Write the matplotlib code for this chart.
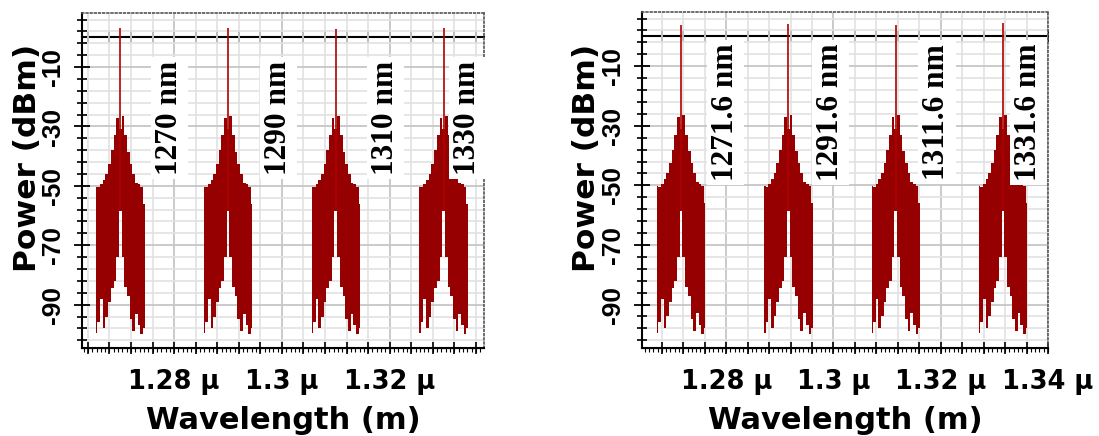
import numpy as np
import matplotlib
matplotlib.use("Agg")
import matplotlib.pyplot as plt
from matplotlib.ticker import FixedLocator, FuncFormatter, NullFormatter

# channel carriers (nm) and the carrier peak power (dBm)
left_centres = [1270, 1290, 1310, 1330]
left_peaks = [3.0, 3.0, 2.9, 3.0]
left_names = ["1270 nm", "1290 nm", "1310 nm", "1330 nm"]

right_centres = [1271.6, 1291.6, 1311.6, 1331.6]
right_peaks = [3.8, 4.2, 3.9, 4.4]
right_names = ["1271.6 nm", "1291.6 nm", "1311.6 nm", "1331.6 nm"]

# comb of sidebands around each carrier: offset (nm), top and bottom of the comb (dBm)
offsets = [-4.5, -4.0, -3.5, -3.0, -2.5, -2.0, -1.5, -1.0, -0.5, 0.0,
           0.5, 1.0, 1.5, 2.0, 2.5, 3.0, 3.5, 4.0, 4.5]
comb_top = [-50.3, -50.5, -49.5, -48.0, -46.0, -42.5, -38.0, -33.0, -27.0, -31.0,
            -26.5, -33.0, -38.5, -42.5, -46.0, -49.0, -49.5, -50.3, -56.0]
comb_bottom = [-99.5, -96.0, -88.0, -98.0, -94.0, -89.0, -84.5, -82.0, -74.0, -58.5,
               -74.0, -84.0, -87.0, -95.0, -99.0, -93.0, -97.0, -100.0, -98.0]

RED = "#960000"
YMIN, YMAX = -104.6, 8.2


def draw_panel(ax, centres, peaks, names, xlim, label_x, label_y):
    off = np.array(offsets)
    for c, p in zip(centres, peaks):
        x = (c + off) * 1e-9
        ax.fill_between(x, comb_bottom, comb_top, step="mid", facecolor=RED,
                        edgecolor="none", lw=0, antialiased=False, zorder=3)
        ax.vlines(c * 1e-9, comb_bottom[9], p, color="#b00000", lw=1.2, zorder=3)

    for lx, name in zip(label_x, names):
        ax.text(lx * 1e-9, label_y, name, rotation=90, ha="center", va="center",
                family="Liberation Serif", weight="bold", fontsize=22.5,
                bbox=dict(facecolor="white", edgecolor="none", pad=3),
                zorder=6, clip_on=False)

    ax.set_xlim(xlim[0] * 1e-9, xlim[1] * 1e-9)
    ax.set_ylim(YMIN, YMAX)

    # x ticks: labels every 20 nm, ticks/grid every 4 nm
    ax.xaxis.set_major_locator(FixedLocator(np.arange(1260, 1345, 20) * 1e-9))
    ax.xaxis.set_minor_locator(FixedLocator(np.arange(1260, 1345, 4) * 1e-9))
    ax.xaxis.set_major_formatter(FuncFormatter(lambda v, p: f"{v * 1e6:.3g} \u03bc"))
    ax.yaxis.set_major_locator(FixedLocator([-90, -70, -50, -30, -10]))
    ax.yaxis.set_minor_locator(FixedLocator(np.arange(-102, 8, 4)))
    ax.yaxis.set_major_formatter(FuncFormatter(lambda v, p: f"-{abs(v):.0f}"))

    ax.grid(which="major", color="#c6c6c6", lw=1.3)
    ax.grid(which="minor", color="#e2e2e2", lw=1.2)
    ax.set_axisbelow(True)

    ax.tick_params(axis="x", which="both", direction="inout", length=8, width=1.2,
                   pad=11, labelsize=18.5)
    ax.tick_params(axis="y", which="major", direction="inout", length=11, width=1.3,
                   pad=7, labelsize=19)
    ax.tick_params(axis="y", which="minor", direction="inout", length=7, width=1.2)
    for t in ax.get_xticklabels():
        t.set_fontweight("bold")
        t.set_family("DejaVu Sans")
    for t in ax.get_yticklabels():
        t.set_fontweight("bold")
        t.set_family("Liberation Sans")
        t.set_rotation(90)
        t.set_va("center")

    for s in ("left", "bottom"):
        ax.spines[s].set_color("black")
        ax.spines[s].set_linewidth(1.5)
    for s in ("top", "right"):
        ax.spines[s].set_linestyle((0, (1, 1.5)))
        ax.spines[s].set_linewidth(1.2)
        ax.spines[s].set_color("#555555")

    # 0 dBm reference line with tick marks
    zl = ax.secondary_xaxis((0 - YMIN) / (YMAX - YMIN))
    zl.xaxis.set_major_locator(FixedLocator(np.arange(1260, 1345, 4) * 1e-9))
    zl.xaxis.set_major_formatter(NullFormatter())
    zl.tick_params(direction="inout", length=8, width=1.4, color="black")
    for s in zl.spines.values():
        s.set_linewidth(1.5)
        s.set_color("black")

    # fine ticks on the bottom axis
    fine = ax.secondary_xaxis("bottom")
    fine.xaxis.set_major_locator(FixedLocator(np.arange(1260, 1345, 0.8) * 1e-9))
    fine.xaxis.set_major_formatter(NullFormatter())
    fine.tick_params(direction="out", length=3, width=0.8)

    ax.set_xlabel("Wavelength (m)", fontsize=22, weight="bold", family="DejaVu Sans")
    ax.xaxis.set_label_coords(0.5, -0.172)
    ax.set_ylabel("Power (dBm)", fontsize=22.5, weight="bold", family="DejaVu Sans")
    ax.yaxis.set_label_coords(-0.1, 0.567)


fig = plt.figure(figsize=(10.99, 4.36), dpi=100)
ax1 = fig.add_axes([82 / 1099, 1 - 348 / 436, 402 / 1099, 335 / 436])
ax2 = fig.add_axes([642 / 1099, 1 - 348 / 436, 406 / 1099, 336 / 436])

draw_panel(ax1, left_centres, left_peaks, left_names, (1262.9, 1337.5),
           [1279.2, 1299.4, 1319.2, 1334.4], -27.2)
draw_panel(ax2, right_centres, right_peaks, right_names, (1264.3, 1340.0),
           [1279.9, 1299.5, 1319.3, 1336.3], -25.5)

fig.savefig("out.png", dpi=100)
